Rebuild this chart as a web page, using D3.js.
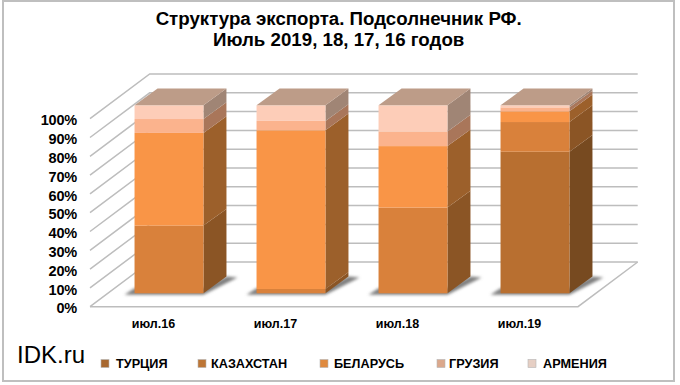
<!DOCTYPE html>
<html>
<head>
<meta charset="utf-8">
<script src="https://cdn.jsdelivr.net/npm/d3@7"></script>
<style>
    body { margin: 0; background: #fff; }
    text { font-family: "Liberation Sans", Arial, sans-serif; fill: #000; }
</style>
</head>
<body>
<div id="chart"></div>
<script>
const months = ["июл.16", "июл.17", "июл.18", "июл.19"];
const seriesNames = ["ТУРЦИЯ", "КАЗАХСТАН", "БЕЛАРУСЬ", "ГРУЗИЯ", "АРМЕНИЯ"];
const turkey = [0, 0, 0, 75.3];
const kazakhstan = [36, 2.3, 45.6, 15.8];
const belarus = [49.3, 84.4, 32.7, 5.7];
const georgia = [7.4, 5, 7.8, 2.1];
const armenia = [7.3, 8.3, 13.9, 1.1];
const yTicks = [0, 10, 20, 30, 40, 50, 60, 70, 80, 90, 100];
const faceColors = ["#b86f30", "#d9813b", "#f99547", "#fbb38d", "#fdcdb8"];
const sideColors = ["#774a20", "#8b5525", "#9c602b", "#a9765a", "#a08575"];
const legendColors = ["#a8682f", "#bd7636", "#df8a3f", "#dba88c", "#e6cfc4"];

const width = 680,
      height = 385;

// floor corners of the 3d box
const floor = { x0: 90, x1: 578, y0: 306.7, dx: 59.7, dy: 44.7 };
const wallHeight = 188;

let rows = months.map((m, i) => ({
    month: m,
    "ТУРЦИЯ": turkey[i],
    "КАЗАХСТАН": kazakhstan[i],
    "БЕЛАРУСЬ": belarus[i],
    "ГРУЗИЯ": georgia[i],
    "АРМЕНИЯ": armenia[i]
}));

let stacked = d3.stack().keys(seriesNames)(rows);

let svg = d3.select("#chart")
    .append("svg")
    .attr("width", width)
    .attr("height", height)
    .attr("viewBox", [0, 0, width, height])
    .style("display", "block");

let defs = svg.append("defs");
defs.append("filter").attr("id", "blur")
    .attr("x", "-30%").attr("y", "-50%").attr("width", "160%").attr("height", "200%")
    .append("feGaussianBlur").attr("stdDeviation", 1.6);

svg.append("rect") // outer frame
    .attr("x", 3).attr("y", 1)
    .attr("width", 671).attr("height", 380)
    .attr("fill", "#fff")
    .attr("stroke", "#bfbfbf")
    .attr("stroke-width", 2);

let title = svg.append("text")
    .attr("text-anchor", "middle")
    .attr("font-weight", "bold")
    .attr("font-size", 18.7);
title.append("tspan").attr("x", 338.7).attr("y", 25).text("Структура экспорта. Подсолнечник РФ.");
title.append("tspan").attr("x", 338.7).attr("y", 46).text("Июль 2019, 18, 17, 16 годов");

// scales on the plane at the front of the floor
let x = d3.scaleBand()
    .domain(months)
    .range([floor.x0, floor.x1])
    .paddingInner(0.435)
    .paddingOuter(0.2175);

let y = d3.scaleLinear()
    .domain([0, 100])
    .range([floor.y0, floor.y0 - wallHeight]);

// walls and gridlines
let grid = svg.append("g")
    .attr("fill", "none")
    .attr("stroke", "#bdbdbd")
    .attr("stroke-width", 1.5);

grid.selectAll(".wall")
    .data(yTicks)
    .join("path")
    .attr("class", "wall")
    .attr("d", d => `M${floor.x0},${y(d)}L${floor.x0 + floor.dx},${y(d) - floor.dy}L${floor.x1 + floor.dx},${y(d) - floor.dy}`);

grid.append("path") // floor front and right edge
    .attr("d", `M${floor.x0},${y(0)}L${floor.x1},${y(0)}L${floor.x1 + floor.dx},${y(0) - floor.dy}`);

// bars sit a bit behind the front edge
const barShift = { x: 18, y: -13.4 };
const depth = { x: 23, y: -16.7 };

let bars = svg.append("g");

bars.selectAll(".shadow")
    .data(months)
    .join("path")
    .attr("class", "shadow")
    .attr("filter", "url(#blur)")
    .attr("fill", "#7f7f7f")
    .attr("d", m => {
        let l = x(m) + barShift.x,
            r = l + x.bandwidth(),
            b = y(0) + barShift.y;
        return `M${l - 10},${b + 1.5}L${r},${b + 1.5}L${r + depth.x + 11},${b + depth.y + 1}L${r + depth.x},${b + depth.y}L${r},${b - 5}L${l},${b - 5}Z`;
    });

let layer = bars.selectAll(".layer")
    .data(stacked)
    .join("g")
    .attr("class", "layer");

layer.selectAll(".side")
    .data((s, i) => s.map(d => ({ d, i })))
    .join("path")
    .attr("class", "side")
    .attr("fill", p => sideColors[p.i])
    .attr("d", p => {
        let r = x(p.d.data.month) + barShift.x + x.bandwidth(),
            lo = y(p.d[0]) + barShift.y,
            hi = y(p.d[1]) + barShift.y;
        return `M${r},${lo}L${r + depth.x},${lo + depth.y}L${r + depth.x},${hi + depth.y}L${r},${hi}Z`;
    });

layer.selectAll(".front")
    .data((s, i) => s.map(d => ({ d, i })))
    .join("rect")
    .attr("class", "front")
    .attr("fill", p => faceColors[p.i])
    .attr("x", p => x(p.d.data.month) + barShift.x)
    .attr("width", x.bandwidth())
    .attr("y", p => y(p.d[1]) + barShift.y)
    .attr("height", p => y(p.d[0]) - y(p.d[1]));

// top of each bar
bars.selectAll(".top")
    .data(months)
    .join("path")
    .attr("class", "top")
    .attr("fill", "#bd9c88")
    .attr("d", m => {
        let l = x(m) + barShift.x,
            r = l + x.bandwidth(),
            t = y(100) + barShift.y;
        return `M${l},${t}L${r},${t}L${r + depth.x},${t + depth.y}L${l + depth.x},${t + depth.y}Z`;
    });

// axes
let yAxis = svg.append("g")
    .attr("transform", `translate(${floor.x0 - 13},1.5)`)
    .call(d3.axisLeft(y).tickValues(yTicks).tickSize(0).tickPadding(0).tickFormat(d => d + "%"));
yAxis.select(".domain").remove();
yAxis.selectAll("text")
    .attr("font-size", 14.5)
    .attr("font-weight", "bold")
    .attr("letter-spacing", -0.2)
    .style("font-family", '"Liberation Sans", Arial, sans-serif');

let xAxis = svg.append("g")
    .attr("transform", `translate(2.5,${y(0)})`)
    .call(d3.axisBottom(x).tickSize(0).tickPadding(12.5));
xAxis.select(".domain").remove();
xAxis.selectAll("text")
    .attr("font-size", 12.5)
    .attr("font-weight", "bold")
    .style("font-family", '"Liberation Sans", Arial, sans-serif');

// legend
const legendX = [101, 198, 320, 437, 528];
const legendTextX = [116, 211, 334, 449, 543];
let legend = svg.selectAll(".legend")
    .data(seriesNames)
    .join("g")
    .attr("class", "legend");

legend.append("rect")
    .attr("x", (d, i) => legendX[i])
    .attr("y", 359.5)
    .attr("width", 8).attr("height", 8)
    .attr("fill", (d, i) => legendColors[i])
    .attr("stroke", "#b5b5b5")
    .attr("stroke-width", 0.6);

legend.append("text")
    .attr("x", (d, i) => legendTextX[i])
    .attr("y", 368)
    .attr("font-size", 12.7)
    .attr("font-weight", "bold")
    .text(d => d);

svg.append("text")
    .attr("x", 17).attr("y", 363)
    .attr("font-size", 24)
    .text("IDK.ru");
</script>
</body>
</html>
